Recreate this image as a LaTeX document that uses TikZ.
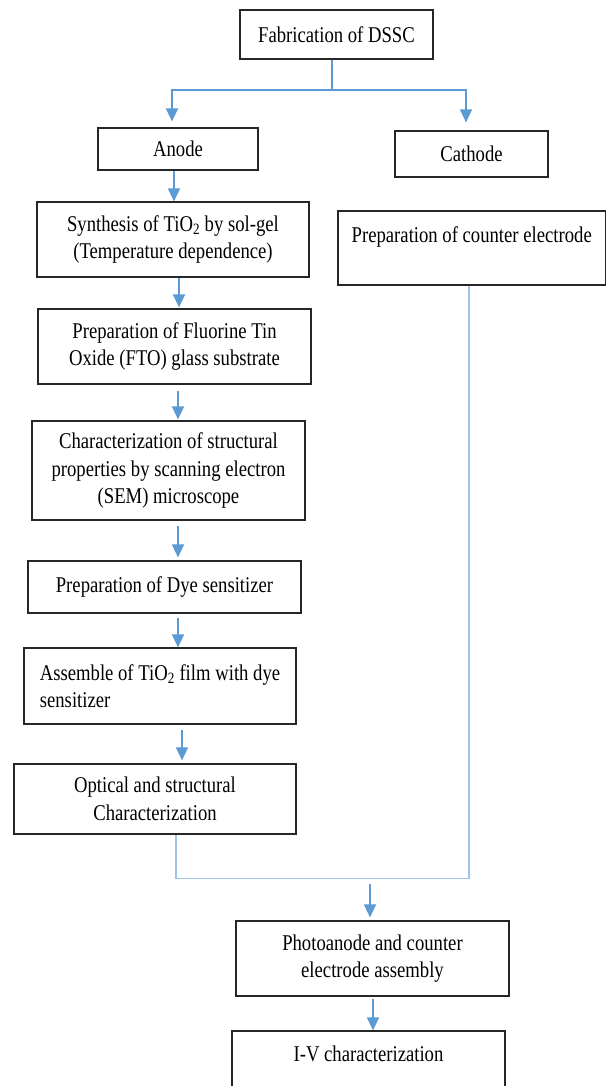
\documentclass[tikz,border=0pt]{standalone}
\usepackage{fontspec}
\setmainfont[FakeStretch=0.83]{Liberation Serif}
\usetikzlibrary{arrows.meta,calc}
\definecolor{arrblue}{HTML}{5B9BD5}
\definecolor{lineblue}{HTML}{9DC3E6}
\tikzset{
  box/.style={draw=black!85, line width=1.2pt, inner sep=0pt, align=center,
    font=\fontsize{22.5}{27.5}\selectfont},
  arr/.style={draw=arrblue, line width=1.6pt, -{Triangle[width=12pt,length=13pt]}},
  splitline/.style={draw=arrblue, line width=1.4pt},
  mergeline/.style={draw=lineblue, line width=1.6pt}
}
\begin{document}
\begin{tikzpicture}[x=1pt,y=-1pt]
\fill[white] (0,0) rectangle (607,1086);
\useasboundingbox (0,0) rectangle (607,1086);

\node[box, minimum width=193pt, minimum height=49pt] (top) at (336.5,34.5) {Fabrication of DSSC};
\node[box, minimum width=160pt, minimum height=42pt] (anode) at (178,149) {Anode};
\node[box, minimum width=153pt, minimum height=46pt] (cathode) at (471.5,154) {Cathode};
\node[box, minimum width=272pt, minimum height=75pt] (synth) at (173,239.5)
  {Synthesis of TiO\textsubscript{2} by sol-gel\\(Temperature dependence)};
\node[box, minimum width=267.5pt, minimum height=74pt] (counter) at (471.75,248)
  {\strut Preparation of counter electrode\\[-6pt] \strut};
\node[box, minimum width=273pt, minimum height=75pt] (fto) at (174.5,346.5)
  {Preparation of Fluorine Tin\\Oxide (FTO) glass substrate};
\node[box, minimum width=273pt, minimum height=99pt] (char) at (168.5,470.5)
  {Characterization of structural\\properties by scanning electron\\(SEM) microscope};
\node[box, minimum width=273pt, minimum height=52pt] (dye) at (164.5,587)
  {Preparation of Dye sensitizer};
\node[box, align=left, minimum width=272pt, minimum height=76pt] (assem) at (160,686)
  {Assemble of TiO\textsubscript{2} film with dye\\sensitizer};
\node[box, minimum width=282pt, minimum height=70pt] (optical) at (155,799)
  {Optical and structural\\Characterization};
\node[box, minimum width=273pt, minimum height=75pt] (photo) at (372.5,958.5)
  {Photoanode and counter\\electrode assembly};
\node[box, minimum width=273pt, minimum height=74pt] (iv) at (368.5,1068)
  {\strut I-V characterization\\[-4pt] \strut};

% top split
\coordinate (sp) at (332,90);
\draw[splitline] ($(top.south)+(-4.5,0)$) -- (sp);
\draw[arr] (sp) -| ($(anode.north)+(-6,-6)$);
\draw[arr] (sp) -| ($(cathode.north)+(-5.5,-8)$);

% anode chain
\draw[arr] ($(anode.south)+(-4,0)$) -- ($(synth.north)+(1,0)$);
\draw[arr] ($(synth.south)+(6,0)$) -- ($(fto.north)+(4.5,-1)$);
\draw[arr] ($(fto.south)+(3.5,6)$) -- ($(char.north)+(9.5,-1)$);
\draw[arr] ($(char.south)+(9.5,5)$) -- ($(dye.north)+(13.5,-3)$);
\draw[arr] ($(dye.south)+(13.5,4)$) -- ($(assem.north)+(18,0)$);
\draw[arr] ($(assem.south)+(22,5)$) -- ($(optical.north)+(27,-3)$);

% merge
\draw[mergeline] ($(optical.south)+(21,0)$) -- ++(0,44) -| ($(counter.south)+(-2.75,0)$);
\coordinate (ma) at (370,884);
\draw[arr] (ma) -- ($(photo.north)+(-2.5,-3)$);
\draw[arr] ($(photo.south)+(0.5,2)$) -- ($(iv.north)+(4.5,0)$);
\end{tikzpicture}
\end{document}
